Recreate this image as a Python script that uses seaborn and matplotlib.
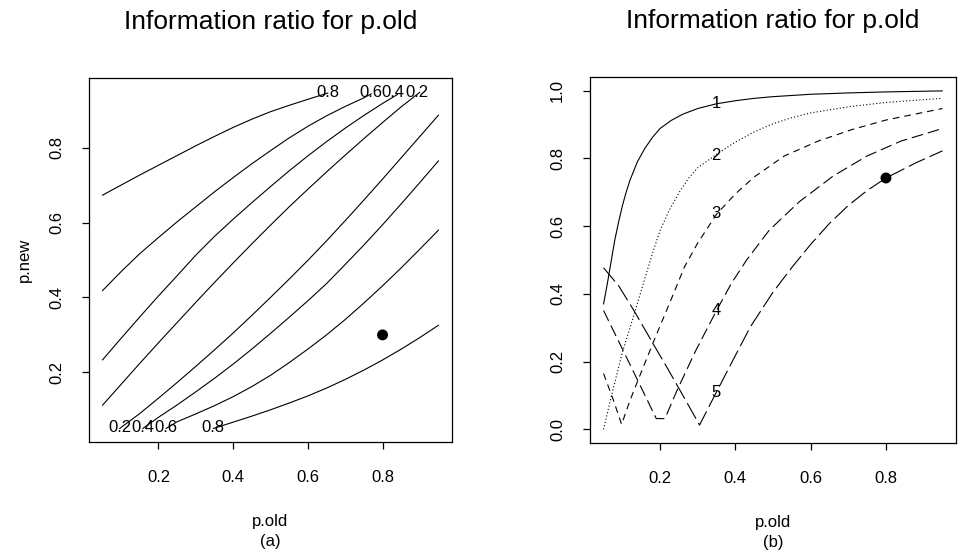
import matplotlib
matplotlib.use("Agg")

import pandas as pd
import matplotlib.pyplot as plt
import seaborn as sns

# --------------------------------------------------------------------------- #
# DATA
# --------------------------------------------------------------------------- #
# (a) contour lines of the information ratio, p.old vs p.new
# upper-left lines run from the left edge up to the top edge
c08_up_x = [0.05, 0.10, 0.15, 0.20, 0.25, 0.30, 0.35, 0.40, 0.45, 0.50, 0.55, 0.60, 0.654]
c08_up_y = [0.673, 0.700, 0.727, 0.753, 0.779, 0.805, 0.830, 0.854, 0.876, 0.896, 0.913, 0.929, 0.946]
c06_up_x = [0.05, 0.10, 0.15, 0.20, 0.25, 0.30, 0.35, 0.40, 0.45, 0.50, 0.55, 0.60, 0.65, 0.70, 0.75, 0.77]
c06_up_y = [0.418, 0.469, 0.517, 0.560, 0.602, 0.642, 0.682, 0.720, 0.757, 0.792, 0.826, 0.857, 0.885,
            0.910, 0.933, 0.944]
c04_up_x = [0.05, 0.10, 0.15, 0.20, 0.25, 0.30, 0.35, 0.40, 0.45, 0.50, 0.55, 0.60, 0.65, 0.70, 0.75,
            0.80, 0.84]
c04_up_y = [0.233, 0.291, 0.348, 0.404, 0.458, 0.513, 0.563, 0.609, 0.653, 0.696, 0.738, 0.778, 0.816,
            0.852, 0.886, 0.918, 0.942]
c02_up_x = [0.05, 0.10, 0.15, 0.20, 0.25, 0.30, 0.35, 0.40, 0.45, 0.50, 0.55, 0.60, 0.65, 0.70, 0.75,
            0.80, 0.85, 0.90]
c02_up_y = [0.112, 0.168, 0.224, 0.279, 0.333, 0.387, 0.440, 0.492, 0.543, 0.593, 0.642, 0.689, 0.735,
            0.780, 0.824, 0.867, 0.909, 0.948]
# lower-right lines run from the bottom edge over to the right edge
c02_lo_x = [0.096, 0.15, 0.20, 0.25, 0.30, 0.35, 0.40, 0.45, 0.50, 0.55, 0.60, 0.65, 0.70, 0.75, 0.80,
            0.85, 0.90, 0.95]
c02_lo_y = [0.050, 0.090, 0.131, 0.173, 0.216, 0.260, 0.305, 0.352, 0.400, 0.449, 0.499, 0.551, 0.605,
            0.660, 0.716, 0.773, 0.830, 0.887]
c04_lo_x = [0.158, 0.20, 0.25, 0.30, 0.35, 0.40, 0.45, 0.50, 0.55, 0.60, 0.65, 0.70, 0.75, 0.80, 0.85,
            0.90, 0.95]
c04_lo_y = [0.050, 0.080, 0.113, 0.148, 0.184, 0.222, 0.262, 0.304, 0.347, 0.391, 0.437, 0.488, 0.540,
            0.594, 0.650, 0.707, 0.765]
c06_lo_x = [0.22, 0.25, 0.30, 0.35, 0.40, 0.45, 0.50, 0.55, 0.60, 0.65, 0.70, 0.75, 0.80, 0.85, 0.90, 0.95]
c06_lo_y = [0.050, 0.068, 0.089, 0.111, 0.135, 0.162, 0.192, 0.226, 0.262, 0.300, 0.341, 0.385, 0.431,
            0.479, 0.529, 0.580]
c08_lo_x = [0.347, 0.40, 0.45, 0.50, 0.55, 0.60, 0.65, 0.70, 0.75, 0.80, 0.85, 0.90, 0.95]
c08_lo_y = [0.050, 0.067, 0.083, 0.100, 0.118, 0.137, 0.158, 0.181, 0.206, 0.233, 0.262, 0.293, 0.326]

contour_labels = ["0.8", "0.6", "0.4", "0.2", "0.2", "0.4", "0.6", "0.8"]
contour_label_x = [0.654, 0.769, 0.829, 0.892, 0.096, 0.158, 0.220, 0.347]
contour_label_y = [0.946, 0.946, 0.946, 0.946, 0.052, 0.052, 0.052, 0.052]

dot_a_x = [0.80]
dot_a_y = [0.30]

# (b) information ratio curves 1..5 against p.old
r1_x = [0.05, 0.06, 0.07, 0.08, 0.09, 0.10, 0.11, 0.12, 0.14, 0.16, 0.18, 0.20, 0.23,
        0.26, 0.30, 0.35, 0.40, 0.45, 0.50, 0.60, 0.70, 0.80, 0.95]
r1_y = [0.370, 0.430, 0.495, 0.560, 0.612, 0.660, 0.700, 0.735, 0.790, 0.830, 0.862, 0.888, 0.912,
        0.930, 0.947, 0.961, 0.970, 0.977, 0.982, 0.989, 0.993, 0.996, 0.999]
r2_x = [0.05, 0.07, 0.10, 0.13, 0.16, 0.18, 0.20, 0.225, 0.25, 0.275, 0.30, 0.35, 0.40, 0.45,
        0.50, 0.55, 0.60, 0.70, 0.80, 0.95]
r2_y = [0.000, 0.095, 0.228, 0.335, 0.447, 0.520, 0.587, 0.648, 0.698, 0.740, 0.772, 0.812, 0.848,
        0.878, 0.902, 0.920, 0.934, 0.952, 0.965, 0.977]
r3_x = [0.05, 0.075, 0.098, 0.12, 0.145, 0.186, 0.23, 0.265, 0.30, 0.35, 0.40, 0.45, 0.53,
        0.62, 0.71, 0.80, 0.95]
r3_y = [0.165, 0.090, 0.015, 0.085, 0.155, 0.268, 0.385, 0.480, 0.550, 0.635, 0.695, 0.745, 0.807,
        0.851, 0.885, 0.913, 0.947]
r4_x = [0.05, 0.12, 0.19, 0.213, 0.245, 0.295, 0.35, 0.39, 0.43, 0.49, 0.57, 0.66, 0.75, 0.84, 0.95]
r4_y = [0.351, 0.192, 0.032, 0.032, 0.115, 0.233, 0.351, 0.432, 0.500, 0.588, 0.672, 0.748, 0.807,
        0.851, 0.888]
r5_x = [0.05, 0.09, 0.13, 0.18, 0.22, 0.265, 0.305, 0.345, 0.40, 0.44, 0.50, 0.55, 0.60, 0.65,
        0.70, 0.75, 0.80, 0.88, 0.95]
r5_y = [0.477, 0.424, 0.352, 0.256, 0.180, 0.092, 0.013, 0.100, 0.218, 0.303, 0.405, 0.478, 0.546,
        0.608, 0.661, 0.705, 0.742, 0.787, 0.822]

curve_names = ["1", "2", "3", "4", "5"]
curve_label_x = [0.349, 0.349, 0.349, 0.349, 0.349]
curve_label_y = [0.963, 0.807, 0.638, 0.351, 0.109]

dot_b_x = [0.80]
dot_b_y = [0.742]

# --------------------------------------------------------------------------- #
# TABLES
# --------------------------------------------------------------------------- #
left_lines = [(c08_up_x, c08_up_y), (c06_up_x, c06_up_y), (c04_up_x, c04_up_y),
              (c02_up_x, c02_up_y), (c02_lo_x, c02_lo_y), (c04_lo_x, c04_lo_y),
              (c06_lo_x, c06_lo_y), (c08_lo_x, c08_lo_y)]
df_a = pd.concat([pd.DataFrame({"p_old": xs, "p_new": ys, "line": i})
                  for i, (xs, ys) in enumerate(left_lines)], ignore_index=True)

right_curves = [(r1_x, r1_y), (r2_x, r2_y), (r3_x, r3_y), (r4_x, r4_y), (r5_x, r5_y)]
df_b = pd.concat([pd.DataFrame({"p_old": xs, "ratio": ys, "curve": name})
                  for name, (xs, ys) in zip(curve_names, right_curves)], ignore_index=True)

# --------------------------------------------------------------------------- #
# STYLE
# --------------------------------------------------------------------------- #
sns.set_theme(style="ticks", rc={
    "axes.edgecolor": "black", "axes.linewidth": 0.9,
    "text.color": "black", "axes.labelcolor": "black",
    "xtick.color": "black", "ytick.color": "black",
    "xtick.major.size": 5, "ytick.major.size": 5,
    "xtick.major.width": 0.9, "ytick.major.width": 0.9,
})
plt.rcParams["font.family"] = ["Liberation Sans", "DejaVu Sans"]

TICK_FS = 12
TITLE_FS = 19

fig = plt.figure(figsize=(9.59, 5.56), dpi=100)
ax_a = fig.add_axes([89 / 959, 1 - 442 / 556, 363 / 959, 364 / 556])
ax_b = fig.add_axes([590 / 959, 1 - 443 / 556, 366 / 959, 366 / 556])

# --------------------------------------------------------------------------- #
# (a) contour panel
# --------------------------------------------------------------------------- #
sns.lineplot(data=df_a, x="p_old", y="p_new", units="line", estimator=None,
             sort=False, color="black", lw=0.8, ax=ax_a)
for lab, x, y in zip(contour_labels, contour_label_x, contour_label_y):
    ax_a.text(x, y, lab, ha="center", va="center", fontsize=TICK_FS)
sns.scatterplot(x=dot_a_x, y=dot_a_y, s=62, color="black", edgecolor="none", ax=ax_a)

ax_a.set_xlim(0.014, 0.986)
ax_a.set_ylim(0.014, 0.986)
ax_a.set_xticks([0.2, 0.4, 0.6, 0.8])
ax_a.set_yticks([0.2, 0.4, 0.6, 0.8])
ax_a.set_ylabel("p.new", fontsize=TICK_FS, labelpad=12)

# --------------------------------------------------------------------------- #
# (b) ratio curves
# --------------------------------------------------------------------------- #
dash_map = {"1": "", "2": (1, 2), "3": (6, 4.5), "4": (10.5, 4.5), "5": (16, 4.5)}
sns.lineplot(data=df_b, x="p_old", y="ratio", style="curve", dashes=dash_map,
             estimator=None, sort=False, color="black", lw=0.8, legend=False, ax=ax_b)
for lab, x, y in zip(curve_names, curve_label_x, curve_label_y):
    ax_b.text(x, y, lab, ha="center", va="center", fontsize=TICK_FS)
sns.scatterplot(x=dot_b_x, y=dot_b_y, s=62, color="black", edgecolor="none", ax=ax_b)

ax_b.set_xlim(0.014, 0.986)
ax_b.set_ylim(-0.04, 1.04)
ax_b.set_xticks([0.2, 0.4, 0.6, 0.8])
ax_b.set_yticks([0.0, 0.2, 0.4, 0.6, 0.8, 1.0])
ax_b.set_yticklabels(["0.0", "0.2", "0.4", "0.6", "0.8", "1.0"])
ax_b.set_ylabel("")

# --------------------------------------------------------------------------- #
# COMMON AXIS DRESSING
# --------------------------------------------------------------------------- #
for ax, tag in [(ax_a, "(a)"), (ax_b, "(b)")]:
    ax.set_title("Information ratio for p.old", fontsize=TITLE_FS, pad=35)
    ax.set_xlabel("p.old\n" + tag, fontsize=TICK_FS, labelpad=21, linespacing=1.45)
    ax.tick_params(axis="x", labelsize=TICK_FS, pad=15, direction="out")
    ax.tick_params(axis="y", labelsize=TICK_FS, pad=13, direction="out", labelrotation=90)
    for t in ax.get_yticklabels():
        t.set_va("center")
    for side in ["top", "right", "left", "bottom"]:
        ax.spines[side].set_visible(True)

fig.savefig("out.png", dpi=100)
plt.close(fig)
